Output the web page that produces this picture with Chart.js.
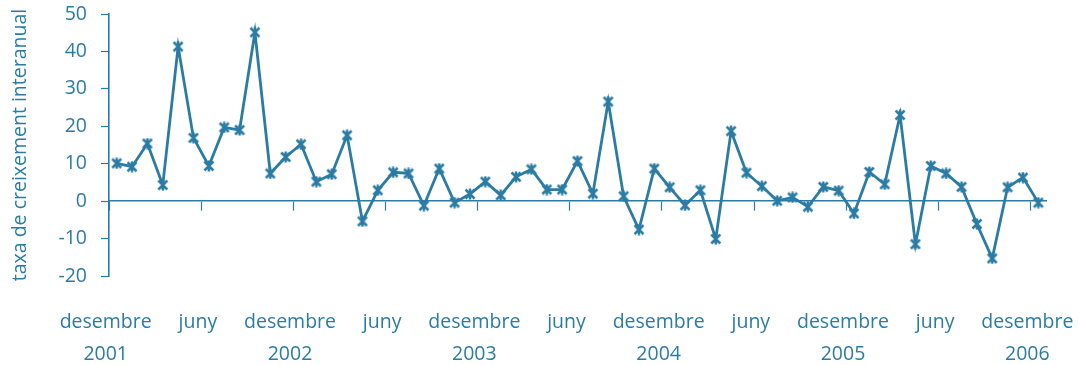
<!DOCTYPE html>
<html>
<head>
<meta charset="utf-8">
<script src="https://cdn.jsdelivr.net/npm/chart.js@4/dist/chart.umd.min.js"></script>
<style>
  html, body { margin: 0; padding: 0; background: #fff; }
  #wrap { width: 1078px; height: 365px; }
</style>
</head>
<body>
<div id="wrap"><canvas id="chart"></canvas></div>
<script>
// months from desembre 2001 to desembre 2006
const monthNames = ['gener', 'febrer', 'març', 'abril', 'maig', 'juny', 'juliol', 'agost', 'setembre', 'octubre', 'novembre', 'desembre'];
const firstYear = 2001;
const lastYear = 2006;

// taxa de creixement interanual (%), one value per month
const growth = [
  10.1, 9.2, 15.4, 4.3, 41.3, 16.9, 9.4, 19.7, 19.0, 45.1, 7.4, 11.8, 15.2,
  5.2, 7.2, 17.6, -5.4, 2.9, 7.7, 7.4, -1.2, 8.7, -0.4, 1.9, 5.2,
  1.6, 6.5, 8.5, 3.1, 3.1, 10.7, 2.0, 26.6, 1.3, -7.6, 8.7, 3.7,
  -1.1, 2.9, -10.1, 18.7, 7.6, 4.0, 0.1, 1.0, -1.5, 3.8, 2.8, -3.3,
  7.8, 4.5, 23.0, -11.5, 9.4, 7.4, 3.8, -6.1, -15.3, 3.7, 6.3, -0.4
];

// labels shown under the axis (every six months)
const tickLabels = [
  ['desembre', '2001'], 'juny', ['desembre', '2002'], 'juny', ['desembre', '2003'], 'juny',
  ['desembre', '2004'], 'juny', ['desembre', '2005'], 'juny', ['desembre', '2006']
];

const yTicks = { min: -20, max: 50, step: 10 };
const yTitle = 'taxa de creixement interanual';

const blue = '#2a7ca4';
const fontFamily = '"Open Sans", "Noto Sans", sans-serif';

// build the category list
const categories = [];
categories.push(monthNames[11] + ' ' + firstYear);
for (let y = firstYear + 1; y <= lastYear; y++) {
  for (let m = 0; m < 12; m++) categories.push(monthNames[m] + ' ' + y);
}

// marker: x with a vertical stroke (star)
function makeMarker() {
  const c = document.createElement('canvas');
  c.width = 12; c.height = 12;
  const g = c.getContext('2d');
  g.strokeStyle = blue;
  g.lineWidth = 2.5;
  g.beginPath();
  g.moveTo(1.5, 1.5); g.lineTo(10.5, 10.5);
  g.moveTo(10.5, 1.5); g.lineTo(1.5, 10.5);
  g.moveTo(6, 0.5); g.lineTo(6, 11.5);
  g.stroke();
  return c;
}
const marker = makeMarker();

const ctx = document.getElementById('chart').getContext('2d');
const myChart = new Chart(ctx, {
  type: 'line',
  data: {
    labels: categories,
    datasets: [{
      label: yTitle,
      data: growth,
      xAxisID: 'x',
      yAxisID: 'y',
      borderColor: blue,
      borderWidth: 2.8,
      pointStyle: marker,
      pointRadius: 6,
      tension: 0,
      fill: false
    }]
  },
  options: {
    responsive: true,
    maintainAspectRatio: false,
    animation: false,
    events: [],
    layout: { padding: { top: 14, right: 32, left: 0, bottom: 0 } },
    plugins: {
      legend: { display: false },
      tooltip: { enabled: false }
    },
    scales: {
      // axis line at zero with half-year tick marks
      x: {
        type: 'category',
        position: { y: 0 },
        offset: true,
        border: { display: true, color: blue, width: 1.6 },
        grid: {
          display: true,
          drawOnChartArea: false,
          drawTicks: true,
          offset: true,
          tickLength: 9,
          tickWidth: 1.2,
          tickColor: (c) => (c.index % 6 === 0 ? blue : 'rgba(0,0,0,0)')
        },
        ticks: { display: false, autoSkip: false }
      },
      // labels at the bottom
      x2: {
        type: 'category',
        axis: 'x',
        position: 'bottom',
        offset: true,
        border: { display: false },
        grid: { display: false, drawTicks: false },
        ticks: {
          autoSkip: false,
          maxRotation: 0,
          minRotation: 0,
          padding: 30,
          labelOffset: -11,
          color: blue,
          font: { family: fontFamily, size: 19.5, lineHeight: 1.66 },
          callback: (v, i) => (i % 6 === 0 ? tickLabels[i / 6] : '')
        },
        afterFit: (s) => { s.height = 89; s.paddingLeft = 0; s.paddingRight = 0; }
      },
      y: {
        min: yTicks.min,
        max: yTicks.max,
        border: { display: true, color: blue, width: 1.6 },
        grid: { drawOnChartArea: false, drawTicks: true, tickLength: 8, tickColor: blue, tickWidth: 1.2 },
        ticks: {
          stepSize: yTicks.step,
          padding: 14,
          color: blue,
          font: { family: fontFamily, size: 19.5 }
        },
        title: {
          display: true,
          text: yTitle,
          color: blue,
          padding: { top: 9, bottom: 0 },
          font: { family: fontFamily, size: 19.5 }
        },
        afterFit: (s) => { s.width = 109; s.paddingTop = 0; s.paddingBottom = 0; }
      }
    }
  }
});
</script>
</body>
</html>
